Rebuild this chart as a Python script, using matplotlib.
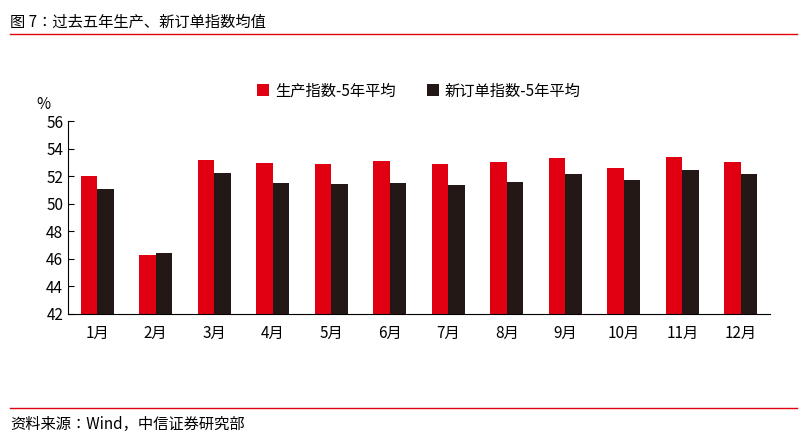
import matplotlib
matplotlib.use("Agg")
import matplotlib.pyplot as plt
from matplotlib import font_manager
import numpy as np
from matplotlib.lines import Line2D

names = {f.name for f in font_manager.fontManager.ttflist}
cands = [n for n in ["Noto Sans CJK SC", "Noto Sans CJK JP", "Noto Sans CJK TC", "Noto Sans CJK KR", "Noto Sans SC"] if n in names]
plt.rcParams['font.family'] = 'sans-serif'
plt.rcParams['font.sans-serif'] = cands + ['Liberation Sans', 'DejaVu Sans']

months = ["1月","2月","3月","4月","5月","6月","7月","8月","9月","10月","11月","12月"]
production = [52.0, 46.3, 53.2, 52.95, 52.9, 53.1, 52.9, 53.0, 53.3, 52.6, 53.4, 53.0]
new_orders = [51.1, 46.4, 52.2, 51.5, 51.4, 51.5, 51.35, 51.6, 52.15, 51.7, 52.45, 52.15]
yticks = [42, 44, 46, 48, 50, 52, 54, 56]

W, H = 807, 445
fig = plt.figure(figsize=(W/100, H/100), dpi=100)
ax = fig.add_axes([68/W, 1-314/H, (770-68)/W, (314-121)/H])
x = np.arange(len(months))
w = 0.28
ax.bar(x - w/2, production, w, color='#E00012', label='生产指数-5年平均')
ax.bar(x + w/2, new_orders, w, color='#231815', label='新订单指数-5年平均')
ax.set_ylim(42, 56)
ax.set_yticks(yticks)
ax.set_xlim(-0.5, len(months)-0.5)
ax.set_xticks(x)
ax.set_xticklabels(months, fontsize=11)
ax.tick_params(axis='y', labelsize=11, direction='in', length=4)
ax.tick_params(axis='x', length=0, pad=8)
for s in ['top', 'right']:
    ax.spines[s].set_visible(False)
for s in ['left', 'bottom']:
    ax.spines[s].set_color('black')
ax.text(-0.035, 1.06, '%', transform=ax.transAxes, fontsize=11, ha='center')
ax.legend(loc='upper center', bbox_to_anchor=(0.5, 1.27), ncol=2, frameon=False,
          fontsize=11, handlelength=0.8, handleheight=0.8, columnspacing=2, handletextpad=0.4)

fig.text(10/W, 1-22/H, '图 7：过去五年生产、新订单指数均值', fontsize=11, va='center')
fig.add_artist(Line2D([10/W, 797/W], [1-34/H, 1-34/H], color='#E00012', lw=1))
fig.add_artist(Line2D([10/W, 797/W], [1-408/H, 1-408/H], color='#E00012', lw=1))
fig.text(10/W, 1-424/H, '资料来源：Wind，中信证券研究部', fontsize=11, va='center')

fig.savefig('out.png', dpi=100)
